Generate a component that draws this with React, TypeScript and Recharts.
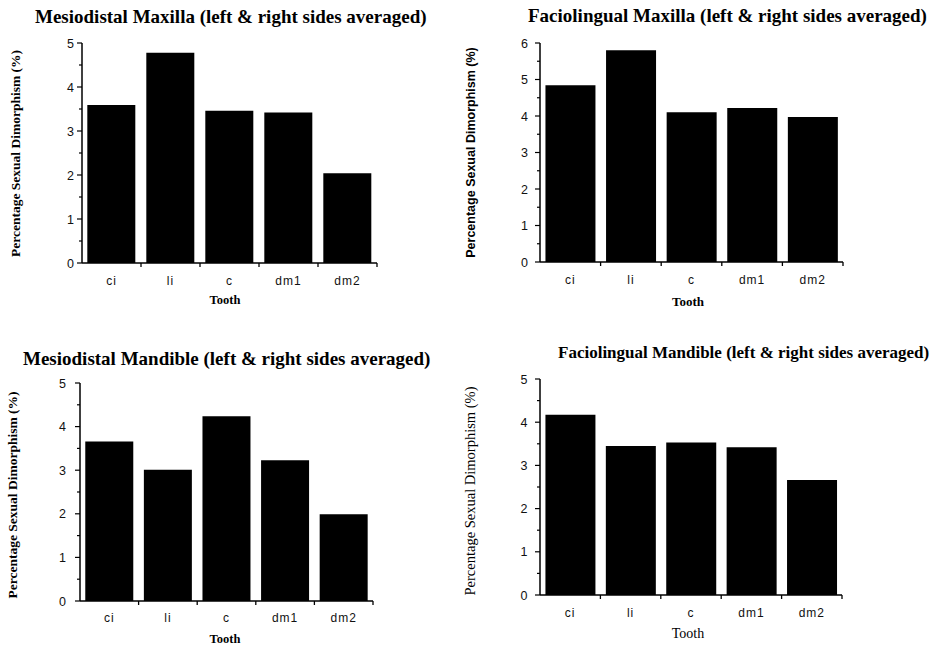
import React from 'react';
import { BarChart, Bar, XAxis, YAxis } from 'recharts';

// tooth categories and % sexual dimorphism
const teeth = ['ci', 'li', 'c', 'dm1', 'dm2'];
const mdMaxilla = [3.59, 4.78, 3.46, 3.42, 2.04];
const flMaxilla = [4.84, 5.8, 4.1, 4.22, 3.97];
const mdMandible = [3.66, 3.01, 4.24, 3.23, 1.99];
const flMandible = [4.17, 3.45, 3.53, 3.42, 2.66];
const ticksTo5 = [0, 0.5, 1, 1.5, 2, 2.5, 3, 3.5, 4, 4.5, 5];
const ticksTo6 = [0, 0.5, 1, 1.5, 2, 2.5, 3, 3.5, 4, 4.5, 5, 5.5, 6];

const SERIF = '"Liberation Serif", "Times New Roman", serif';
const SANS = '"Liberation Sans", Arial, sans-serif';

const toRows = (vals: number[]) => teeth.map((t, i) => ({ tooth: t, pct: vals[i] }));

type PanelProps = {
  left: number; top: number; w: number; h: number;
  margin: { top: number; right: number; bottom: number; left: number };
  values: number[]; ticks: number[]; max: number;
  tickGap: number; labelDy: number;
};

const Panel = ({ left, top, w, h, margin, values, ticks, max, tickGap, labelDy }: PanelProps) => {
  const plotW = w - margin.left - margin.right - 30;
  const half = plotW / teeth.length / 2;

  const xTick = (p: any) => (
    <g>
      <line x1={p.x + half} x2={p.x + half} y1={p.y} y2={p.y + 4} stroke="#000" strokeWidth={1.3} />
      <text x={p.x} y={p.y + labelDy} textAnchor="middle" fontFamily={SANS} fontSize={12} letterSpacing={1} fill="#111">
        {p.payload.value}
      </text>
    </g>
  );

  const yTick = (p: any) => {
    const v = p.payload.value;
    const major = Number.isInteger(v);
    return (
      <g>
        <line x1={p.x - (major ? 5 : 3)} x2={p.x} y1={p.y} y2={p.y} stroke="#000" strokeWidth={1.2} />
        {major && (
          <text x={p.x - tickGap} y={p.y + 4.5} textAnchor="end" fontFamily={SANS} fontSize={12.5} fill="#111">
            {v}
          </text>
        )}
      </g>
    );
  };

  return (
    <div style={{ position: 'absolute', left, top }}>
      <BarChart width={w} height={h} data={toRows(values)} margin={margin} barCategoryGap="9%">
        <XAxis
          dataKey="tooth"
          height={40}
          tickSize={0}
          tickMargin={0}
          tickLine={false}
          axisLine={{ stroke: '#000', strokeWidth: 1.5 }}
          tick={xTick}
          interval={0}
        />
        <YAxis
          width={30}
          domain={[0, max]}
          ticks={ticks}
          interval={0}
          tickSize={0}
          tickMargin={0}
          tickLine={false}
          axisLine={{ stroke: '#000', strokeWidth: 1.5 }}
          tick={yTick}
        />
        <Bar dataKey="pct" fill="#000" isAnimationActive={false} />
      </BarChart>
    </div>
  );
};

const yTitle = 'Percentage Sexual Dimorphism (%)';

export default function App() {
  return (
    <div style={{ position: 'absolute', left: 0, top: 0, width: 943, height: 646, background: '#fff', overflow: 'hidden' }}>
      <Panel left={0} top={0} w={470} h={320} margin={{ top: 43, right: 93, bottom: 17, left: 52 }}
        values={mdMaxilla} ticks={ticksTo5} max={5} tickGap={8} labelDy={21.5} />
      <Panel left={470} top={0} w={473} h={320} margin={{ top: 43, right: 100, bottom: 18, left: 40 }}
        values={flMaxilla} ticks={ticksTo6} max={6} tickGap={12} labelDy={22} />
      <Panel left={0} top={320} w={470} h={326} margin={{ top: 63, right: 97, bottom: 5, left: 50 }}
        values={mdMandible} ticks={ticksTo5} max={5} tickGap={14} labelDy={21} />
      <Panel left={470} top={320} w={473} h={326} margin={{ top: 59, right: 101, bottom: 11, left: 40 }}
        values={flMandible} ticks={ticksTo5} max={5} tickGap={12.5} labelDy={22} />

      {/* titles, axis titles */}
      <svg width={943} height={646} style={{ position: 'absolute', left: 0, top: 0, pointerEvents: 'none' }}>
        <g fontFamily={SERIF} fontWeight="bold" fill="#000">
          <text x={35} y={23} fontSize={19}>Mesiodistal Maxilla (left &amp; right sides averaged)</text>
          <text x={528} y={21.7} fontSize={19}>Faciolingual Maxilla (left &amp; right sides averaged)</text>
          <text x={23} y={365} fontSize={19}>Mesiodistal Mandible (left &amp; right sides averaged)</text>
          <text x={558} y={358} fontSize={17}>Faciolingual Mandible (left &amp; right sides averaged)</text>
        </g>

        <text transform="translate(20,153.5) rotate(-90)" textAnchor="middle" fontFamily={SERIF} fontWeight="bold" fontSize={13.5}>{yTitle}</text>
        <text transform="translate(475,152.5) rotate(-90)" textAnchor="middle" fontFamily={SANS} fontWeight="bold" fontSize={12.5}>{yTitle}</text>
        <text transform="translate(17,495) rotate(-90)" textAnchor="middle" fontFamily={SERIF} fontWeight="bold" fontSize={13.5}>{yTitle}</text>
        <text transform="translate(475,491) rotate(-90)" textAnchor="middle" fontFamily={SERIF} fontSize={14.5}>{yTitle}</text>

        <g fontFamily={SERIF} textAnchor="middle" fill="#000">
          <text x={225} y={304} fontSize={12.5} fontWeight="bold">Tooth</text>
          <text x={688} y={306} fontSize={13} fontWeight="bold">Tooth</text>
          <text x={225} y={643} fontSize={12.5} fontWeight="bold">Tooth</text>
          <text x={688} y={638} fontSize={14}>Tooth</text>
        </g>
      </svg>
    </div>
  );
}
